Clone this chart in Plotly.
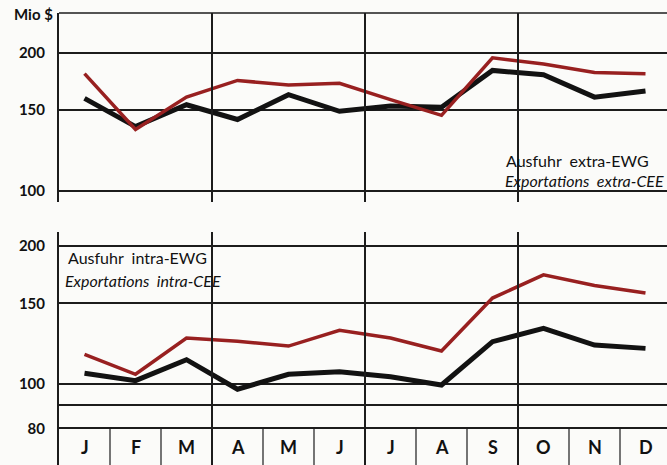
import math
import plotly.graph_objects as go

months = ["J", "F", "M", "A", "M", "J", "J", "A", "S", "O", "N", "D"]

# Ausfuhr extra-EWG (top panel), Mio $
extra_red = [180, 136, 160, 174, 170, 171.5, 158, 146, 195, 189, 181, 180]
extra_black = [159, 138, 154, 143, 162, 149, 153, 152, 183, 179, 160, 165]

# Ausfuhr intra-EWG (bottom panel), Mio $
intra_red = [116, 105, 126, 124, 121, 131, 126, 118, 154, 173, 164, 158]
intra_black = [105.5, 101.7, 113, 97.4, 105, 106.4, 103.7, 99.5, 123.7, 132.3, 121.6, 119.6]

top_ticks = [100, 150, 200]
top_labels = ["100", "150", "200"]
bot_ticks = [80, 90, 100, 150, 200]
bot_labels = ["80", "", "100", "150", "200"]

RED = "#982020"
BLACK = "#121212"
GRID = "#1c1c1c"
FONT = "Lato"

x = [i + 0.5 for i in range(len(months))]

W, H = 667, 465
L = 59
PW = W - L
top_range = [1.9753, 2.3877]
bot_range = [1.8233, 2.3316]


def px(xp):
    return (xp - L) / PW


def py(yp):
    return 1 - yp / H


fig = go.Figure()
fig.add_trace(go.Scatter(x=x, y=extra_black, mode="lines", line=dict(color=BLACK, width=5),
                         xaxis="x", yaxis="y", showlegend=False))
fig.add_trace(go.Scatter(x=x, y=extra_red, mode="lines", line=dict(color=RED, width=3.5),
                         xaxis="x", yaxis="y", showlegend=False))
fig.add_trace(go.Scatter(x=x, y=intra_black, mode="lines", line=dict(color=BLACK, width=5),
                         xaxis="x2", yaxis="y2", showlegend=False))
fig.add_trace(go.Scatter(x=x, y=intra_red, mode="lines", line=dict(color=RED, width=3.5),
                         xaxis="x2", yaxis="y2", showlegend=False))

xr = [0, PW / 51.0]
yaxis_common = dict(type="log", showline=True, linecolor=GRID, linewidth=2,
                    showgrid=True, gridcolor=GRID, gridwidth=1.5, zeroline=False,
                    ticks="", ticklabelstandoff=9,
                    tickfont=dict(family=FONT, size=15, color="#111", weight="bold"))

fig.update_layout(
    width=W, height=H,
    margin=dict(l=L, r=0, t=0, b=0),
    paper_bgcolor="#fbfbf9", plot_bgcolor="#fbfbf9",
    xaxis=dict(domain=[0, 1], range=xr, visible=False, anchor="y"),
    xaxis2=dict(domain=[0, 1], range=xr, visible=False, anchor="y2"),
    yaxis=dict(domain=[py(202), py(13)], range=top_range,
               tickvals=top_ticks, ticktext=top_labels, anchor="x", **yaxis_common),
    yaxis2=dict(domain=[0, py(232)], range=bot_range,
                tickvals=bot_ticks, ticktext=bot_labels, anchor="x2", **yaxis_common),
)

shapes = []
# top border of the upper panel
shapes.append(dict(type="line", xref="x domain", yref="y domain", x0=0, x1=1, y0=1, y1=1,
                   line=dict(color=GRID, width=1.5)))
# quarter separators
for q in [3, 6, 9]:
    shapes.append(dict(type="line", xref="x", yref="y domain", x0=q, x1=q, y0=0, y1=1,
                       line=dict(color=GRID, width=2)))
    shapes.append(dict(type="line", xref="x2", yref="y2 domain", x0=q, x1=q, y0=0, y1=1,
                       line=dict(color=GRID, width=2)))
# month boxes
f80 = (math.log10(80) - bot_range[0]) / (bot_range[1] - bot_range[0])
for m in range(1, 12):
    if m % 3 == 0:
        continue
    shapes.append(dict(type="line", xref="x2", yref="y2 domain", x0=m, x1=m, y0=0, y1=f80,
                       line=dict(color=GRID, width=1.2)))
fig.update_layout(shapes=shapes)

month_y = py(H - f80 * (H - 232) / 2)
ann = []
for xi, lab in zip(x, months):
    ann.append(dict(x=xi, y=month_y, xref="x2", yref="paper", text=lab, showarrow=False,
                    yanchor="middle",
                    font=dict(family=FONT, size=18, color="#111", weight="bold")))
ann.append(dict(x=px(12), y=py(14), xref="paper", yref="paper", text="<b>Mio $</b>",
                showarrow=False, xanchor="left", yanchor="middle",
                font=dict(family=FONT, size=15, color="#111")))
ann.append(dict(x=px(504), y=py(160), xref="paper", yref="paper",
                text="Ausfuhr  extra-EWG", showarrow=False, xanchor="left", yanchor="middle",
                font=dict(family=FONT, size=16, color="#111")))
ann.append(dict(x=px(503), y=py(181), xref="paper", yref="paper",
                text="<i>Exportations  extra-CEE</i>", showarrow=False, xanchor="left",
                yanchor="middle", font=dict(family=FONT, size=16, color="#111")))
ann.append(dict(x=px(66), y=py(257), xref="paper", yref="paper",
                text="Ausfuhr  intra-EWG", showarrow=False, xanchor="left", yanchor="middle",
                font=dict(family=FONT, size=16, color="#111")))
ann.append(dict(x=px(63), y=py(280), xref="paper", yref="paper",
                text="<i>Exportations  intra-CEE</i>", showarrow=False, xanchor="left",
                yanchor="middle", font=dict(family=FONT, size=16, color="#111")))
fig.update_layout(annotations=ann)

fig.write_html("out.html", config={"displayModeBar": False},
               post_script="document.body.style.margin='0';")
